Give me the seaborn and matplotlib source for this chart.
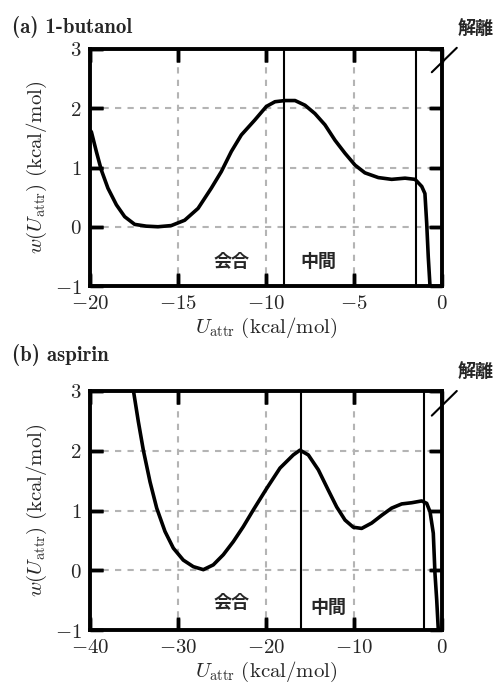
import os
import pandas as pd
import matplotlib
matplotlib.use("Agg")
import matplotlib.pyplot as plt
from matplotlib.font_manager import FontProperties
import seaborn as sns

# 1-butanol free-energy profile
butanol_u = [-20, -19.92, -19.64, -19.36, -18.98, -18.5, -18.03, -17.46, -16.8, -16.14,
             -15.38, -14.62, -13.86, -13.11, -12.54, -11.97, -11.40, -10.64, -9.98, -9.49,
             -8.92, -8.35, -7.78, -7.22, -6.65, -6.08, -5.51, -4.94, -4.38, -3.62,
             -2.86, -2.10, -1.53, -1.15, -0.97, -0.87, -0.78, -0.68]
butanol_w = [1.63, 1.60, 1.27, 0.96, 0.65, 0.37, 0.17, 0.04, 0.01, 0.0,
             0.02, 0.11, 0.31, 0.65, 0.93, 1.27, 1.55, 1.80, 2.03, 2.11,
             2.13, 2.13, 2.05, 1.91, 1.72, 1.46, 1.24, 1.04, 0.91, 0.83,
             0.80, 0.82, 0.80, 0.68, 0.56, 0.06, -0.51, -1.01]
butanol_bounds = [-9, -1.5]

# aspirin free-energy profile
aspirin_u = [-35.2, -35.08, -34.51, -33.94, -33.18, -32.42, -31.48, -30.53, -29.4, -28.26,
             -27.12, -25.99, -24.85, -23.71, -22.58, -21.44, -19.92, -18.41, -16.9, -16.14,
             -15.19, -14.05, -12.92, -11.97, -11.02, -10.08, -9.13, -7.99, -6.85, -5.72,
             -4.58, -3.44, -2.31, -1.74, -1.36, -0.99, -0.80, -0.60, -0.42]
aspirin_w = [3.1, 3.02, 2.49, 2.01, 1.48, 1.04, 0.65, 0.37, 0.17, 0.06,
             0.01, 0.09, 0.26, 0.48, 0.73, 1.01, 1.37, 1.71, 1.93, 2.01,
             1.93, 1.68, 1.34, 1.06, 0.84, 0.72, 0.70, 0.79, 0.92, 1.04,
             1.11, 1.13, 1.16, 1.12, 0.98, 0.62, -0.05, -0.50, -1.0]
aspirin_bounds = [-16, -2]

butanol_xticks = [-20, -15, -10, -5, 0]
aspirin_xticks = [-40, -30, -20, -10, 0]
yticks = [-1, 0, 1, 2, 3]

sns.set_style("ticks")
plt.rcParams["mathtext.fontset"] = "cm"
plt.rcParams["font.family"] = ["DejaVu Serif"]
plt.rcParams["axes.axisbelow"] = False

cmb = FontProperties(fname=os.path.join(matplotlib.get_data_path(), "fonts/ttf/cmb10.ttf"),
                     size=15)

fig = plt.figure(figsize=(4.96, 6.84), dpi=100)
ax1 = fig.add_axes([90 / 496, 1 - 286 / 684, 352 / 496, 237 / 684])
ax2 = fig.add_axes([90 / 496, 1 - 630 / 684, 352 / 496, 239 / 684])

panels = [
    (ax1, butanol_u, butanol_w, butanol_bounds, butanol_xticks, "(a) 1-butanol", 1.091,
     (-11.95, -0.59), (-7.02, -0.59), 0.902, 1.005, 1.084),
    (ax2, aspirin_u, aspirin_w, aspirin_bounds, aspirin_xticks, "(b) aspirin", 1.151,
     (-23.9, -0.54), (-12.9, -0.62), 0.897, 1.0, 1.079),
]

jp = ["Noto Sans CJK JP", "DejaVu Sans"]

for ax, u, w, bounds, xticks, title, title_y, pos_assoc, pos_mid, ly0, ly1, ty in panels:
    df = pd.DataFrame({"u": u, "w": w})
    sns.lineplot(data=df, x="u", y="w", ax=ax, color="black", lw=2.6,
                 sort=False, estimator=None, zorder=4)
    for b in bounds:
        ax.axvline(b, color="black", lw=1.5, zorder=4)
    ax.set_xlim(xticks[0], xticks[-1])
    ax.set_ylim(-1, 3)
    ax.set_xticks(xticks, labels=[f"${t}$" for t in xticks])
    ax.set_yticks(yticks, labels=[f"${t}$" for t in yticks])
    ax.grid(True, color="#b4b4b4", linestyle=(0, (3, 3)), linewidth=1.5)
    ax.tick_params(which="major", direction="in", top=True, right=True, length=9,
                   width=2.5, color="black", labelsize=15, pad=6)
    # inward tick bars on all four sides
    yt = ax.get_yaxis_transform()
    xt = ax.get_xaxis_transform()
    ax.hlines(yticks, 0, 0.037, transform=yt, color="black", lw=2.5, zorder=10)
    ax.hlines(yticks, 0.963, 1, transform=yt, color="black", lw=2.5, zorder=10)
    ax.vlines(xticks, 0, 0.055, transform=xt, color="black", lw=2.5, zorder=10)
    ax.vlines(xticks, 0.945, 1, transform=xt, color="black", lw=2.5, zorder=10)
    for s in ax.spines.values():
        s.set_linewidth(2.8)
        s.set_color("black")
        s.set_zorder(5)
    ax.set_xlabel(r"$U_{\mathrm{attr}}\ \mathrm{(kcal/mol)}$", fontsize=15, labelpad=2)
    ax.set_ylabel(r"$w(U_{\mathrm{attr}})\ \mathrm{(kcal/mol)}$", fontsize=15, labelpad=4)
    ax.text(-0.222, title_y, title, transform=ax.transAxes, fontproperties=cmb,
            ha="left", va="center")
    ax.text(*pos_assoc, "会合", family=jp, fontsize=13, fontweight="bold",
            ha="center", va="center")
    ax.text(*pos_mid, "中間", family=jp, fontsize=13, fontweight="bold",
            ha="center", va="center")
    ax.plot([0.971, 1.042], [ly0, ly1], transform=ax.transAxes, color="black",
            lw=1.5, clip_on=False)
    ax.text(1.097, ty, "解離", transform=ax.transAxes, family=jp, fontsize=13,
            fontweight="bold", ha="center", va="center")

fig.savefig("out.png", dpi=100)
